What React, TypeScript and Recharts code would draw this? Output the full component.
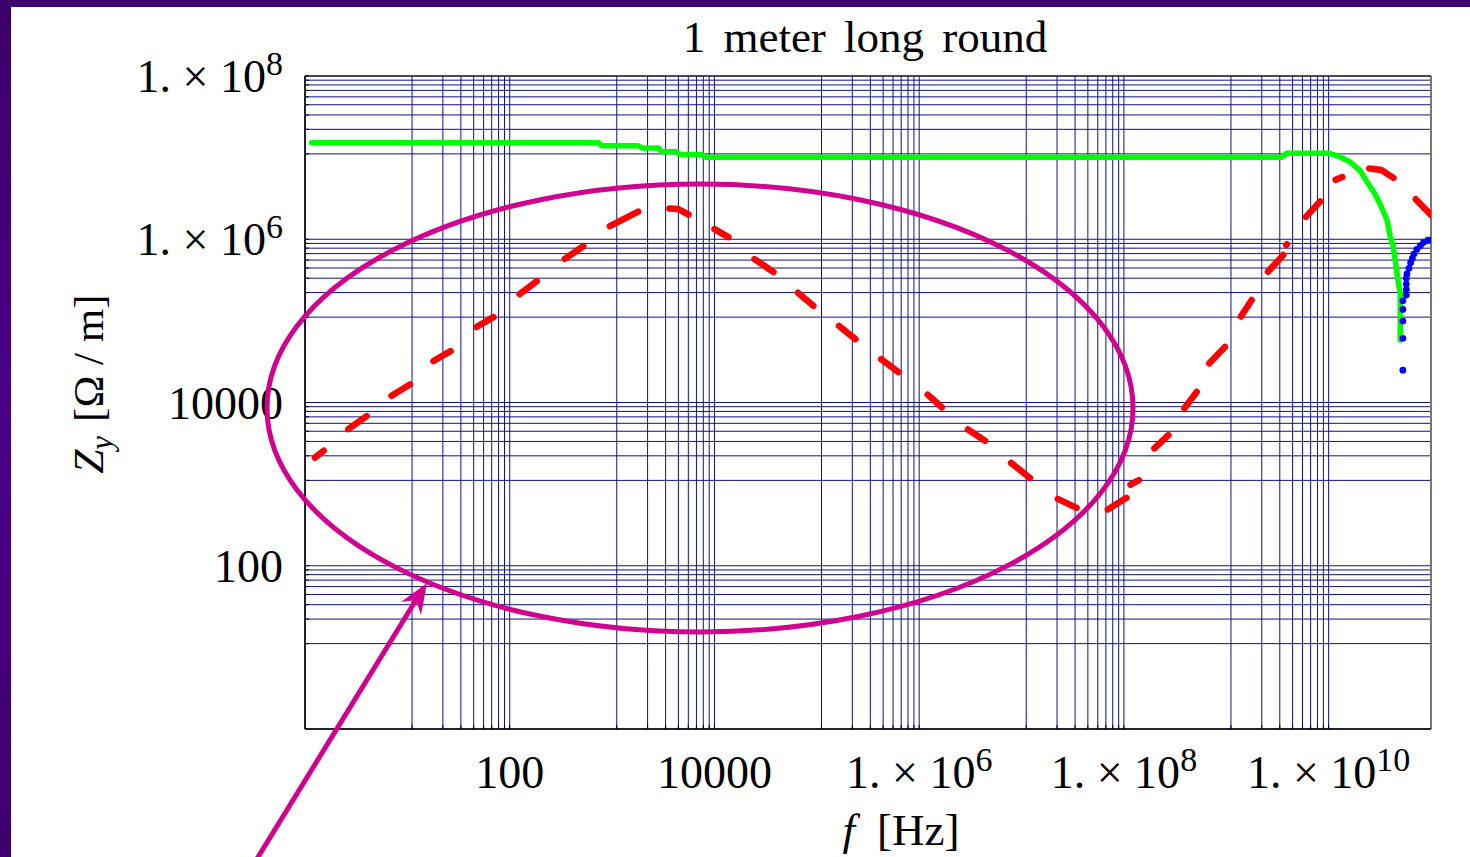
import React from 'react';
import {
  ComposedChart,
  Line,
  Scatter,
  XAxis,
  YAxis,
  CartesianGrid,
  ReferenceLine,
} from 'recharts';

// Z_y [Ohm/m] against f [Hz]

// green curve (f, Z)
const greenFreq = [
  1.16, 740, 790, 1800, 1950, 2850, 3050, 4300, 4600, 7500, 8200,
  3.45e9, 3.89e9, 1.02e10, 1.28e10, 1.6e10, 2.01e10, 2.42e10, 2.81e10,
  3.27e10, 3.71e10, 4.0e10, 4.25e10, 4.51e10, 4.75e10, 5.0e10, 5.0e10,
];
const greenZ = [
  1.52e7, 1.52e7, 1.4e7, 1.4e7, 1.31e7, 1.31e7, 1.18e7, 1.18e7, 1.09e7, 1.09e7, 1.01e7,
  1.01e7, 1.13e7, 1.13e7, 1.03e7, 8.91e6, 7.05e6, 4.84e6, 3.65e6,
  2.5e6, 1.72e6, 1.07e6, 8.49e5, 5.07e5, 3.16e5, 2.17e5, 5.82e4,
];

// red dashes, each one a short run of (f, Z) points
const redDashes: [number, number][][] = [
  [[1.25, 2110], [1.52, 2560]],
  [[2.65, 4720], [4.0, 6800]],
  [[7.0, 12100], [10.6, 16600]],
  [[18.0, 32200], [26.4, 42600]],
  [[47.3, 84000], [69.2, 111000]],
  [[125, 213000], [184, 307000]],
  [[345, 575000], [523, 822000]],
  [[950, 1.45e6], [1800, 2.18e6]],
  [[3640, 2.38e6], [4430, 2.34e6], [5580, 2.01e6]],
  [[10000, 1.33e6], [13700, 1.06e6]],
  [[24600, 570000], [37700, 397000]],
  [[65400, 221000], [92500, 153000]],
  [[165000, 86500], [238000, 59800]],
  [[425000, 34000], [627000, 23600]],
  [[1.21e6, 12500], [1.66e6, 8750]],
  [[2.99e6, 4680], [4.4e6, 3400]],
  [[7.9e6, 1820], [1.21e7, 1190]],
  [[2.26e7, 660], [3.45e7, 512]],
  [[6.96e7, 490], [1.06e8, 680]],
  [[1.16e8, 985], [1.4e8, 1120]],
  [[1.98e8, 2740], [2.72e8, 3980]],
  [[3.9e8, 8500], [5.14e8, 13500]],
  [[6.83e8, 30200], [9.7e8, 48000]],
  [[1.39e9, 113000], [1.77e9, 180000]],
  [[2.55e9, 400000], [3.6e9, 640000]],
  [[3.86e9, 849000], [3.92e9, 870000]],
  [[6.0e9, 1.88e6], [8.25e9, 2.9e6]],
  [[1.17e10, 5.35e6], [1.36e10, 5.78e6]],
  [[2.5e10, 7.37e6], [3.27e10, 7.05e6], [4.3e10, 5.65e6]],
  [[7.1e10, 3.1e6], [1.0e11, 1.98e6]],
];

// blue points
const blueFreq = [
  5.31e10, 5.31e10, 5.31e10, 5.31e10, 5.31e10, 5.74e10, 5.74e10, 5.74e10, 5.74e10,
  5.82e10, 6.09e10, 6.32e10, 6.57e10, 6.81e10, 7.28e10, 7.87e10, 8.47e10, 9.33e10, 9.9e10,
];
const blueZ = [
  24900, 61100, 99500, 138000, 176000, 207000, 243000, 282000, 332000,
  375000, 440000, 515000, 583000, 659000, 752000, 832000, 916000, 977000, 977000,
];

const xMajors = [1e2, 1e4, 1e6, 1e8, 1e10];
const xTickLabels = ['100', '10000', '1. × 10^6', '1. × 10^8', '1. × 10^10'];
const yMajors = [1e2, 1e4, 1e6, 1e8];
const yTickLabels = ['100', '10000', '1. × 10^6', '1. × 10^8'];
const gridSteps = [1, 2, 3, 4, 5, 6, 7, 8, 9];

const serif = '"Liberation Serif", "Times New Roman", serif';

const greenData = greenFreq.map((f, i) => ({ f, z: greenZ[i] }));
const redData = redDashes.flatMap((seg, i) => {
  const pts = seg.map(([f, z]) => ({ f, z } as { f: number; z: number | null }));
  return i === 0 ? pts : [{ f: seg[0][0], z: null }, ...pts];
});
const blueData = blueFreq.map((f, i) => ({ f, z: blueZ[i] }));

// grid lines sit at M*k/9 below every labelled decade
const xTicks = xMajors.flatMap((m) => gridSteps.map((k) => (m * k) / 9));
const yTicks = yMajors.flatMap((m) => gridSteps.map((k) => (m * k) / 9));

const majorIndex = (majors: number[], v: number) =>
  majors.findIndex((m) => Math.abs(v - m) < m * 1e-9);

const TickText = ({ x, y, anchor, label }: any) => {
  const [base, sup] = label.split('^');
  return (
    <text
      x={x}
      y={y}
      textAnchor={anchor}
      fontFamily={serif}
      fontSize={46}
      fill="#000"
      style={{ whiteSpace: 'pre' }}
    >
      {base}
      {sup && (
        <tspan dy={-17} fontSize={34}>
          {sup}
        </tspan>
      )}
    </text>
  );
};

const XTick = (props: any) => {
  const { x, y, payload } = props;
  const i = majorIndex(xMajors, payload.value);
  return (
    <g>
      <line x1={x} x2={x} y1={y} y2={y - 4} stroke="#000" />
      {i >= 0 && <TickText x={x} y={y + 59} anchor="middle" label={xTickLabels[i]} />}
    </g>
  );
};

const YTick = (props: any) => {
  const { x, y, payload } = props;
  const i = majorIndex(yMajors, payload.value);
  return (
    <g>
      <line x1={x} x2={x + 4} y1={y} y2={y} stroke="#000" />
      {i >= 0 && <TickText x={x - 22} y={y + 16} anchor="end" label={yTickLabels[i]} />}
    </g>
  );
};

const BlueDot = (props: any) => <circle cx={props.cx} cy={props.cy} r={3.4} fill="#0000ff" />;

const App = () => {
  return (
    <div
      style={{
        position: 'absolute',
        left: 0,
        top: 0,
        width: 1470,
        height: 857,
        overflow: 'hidden',
        background: 'linear-gradient(180deg, #3b006b 0%, #4b0088 50%, #3d006e 100%)',
      }}
    >
      <div style={{ position: 'absolute', left: 11, top: 7, right: 0, bottom: 0, background: '#fff' }} />
      <div style={{ position: 'absolute', left: 0, top: 0 }}>
        <ComposedChart
          width={1470}
          height={857}
          margin={{ top: 76, right: 39, bottom: 28, left: 105 }}
        >
          <CartesianGrid stroke="#10108a" strokeWidth={1} />
          <XAxis
            dataKey="f"
            type="number"
            scale="log"
            domain={[1, 1e11]}
            allowDataOverflow
            ticks={xTicks}
            interval={0}
            height={100}
            tickSize={0}
            tickMargin={0}
            tickLine={false}
            axisLine={{ stroke: '#000', strokeWidth: 1.5 }}
            tick={<XTick />}
          />
          <YAxis
            dataKey="z"
            type="number"
            scale="log"
            domain={[1, 1e8]}
            allowDataOverflow
            ticks={yTicks}
            interval={0}
            width={200}
            tickSize={0}
            tickMargin={0}
            tickLine={false}
            axisLine={{ stroke: '#000', strokeWidth: 1.5 }}
            tick={<YTick />}
          />
          <ReferenceLine x={1e11} stroke="#777" strokeWidth={2} ifOverflow="visible" />
          <ReferenceLine y={1e8} stroke="#333" strokeWidth={1.5} ifOverflow="visible" />
          <Line
            data={greenData}
            dataKey="z"
            type="linear"
            stroke="#00ff00"
            strokeWidth={5.5}
            strokeLinecap="round"
            strokeLinejoin="round"
            dot={false}
            isAnimationActive={false}
          />
          <Line
            data={redData}
            dataKey="z"
            type="linear"
            stroke="#ff0000"
            strokeWidth={6.5}
            strokeLinecap="round"
            strokeLinejoin="round"
            connectNulls={false}
            dot={false}
            isAnimationActive={false}
          />
          <Scatter data={blueData} dataKey="z" fill="#0000ff" shape={BlueDot} isAnimationActive={false} />
        </ComposedChart>
      </div>
      <svg
        width={1470}
        height={857}
        style={{ position: 'absolute', left: 0, top: 0, pointerEvents: 'none' }}
      >
        <text
          x={865}
          y={52}
          textAnchor="middle"
          fontFamily={serif}
          fontSize={45}
          wordSpacing={7}
          fill="#000"
        >
          1 meter long round
        </text>
        <text
          transform="rotate(-90 103 384)"
          x={103}
          y={384}
          textAnchor="middle"
          fontFamily={serif}
          fontSize={43}
          fill="#000"
        >
          <tspan fontStyle="italic">Z</tspan>
          <tspan fontStyle="italic" fontSize={31} dy={9}>
            y
          </tspan>
          <tspan dy={-9} dx={14}>
            [Ω / m]
          </tspan>
        </text>
        <text x={901} y={845} textAnchor="middle" fontFamily={serif} fontSize={45} fill="#000">
          <tspan fontStyle="italic">f</tspan>
          <tspan dx={22}>[Hz]</tspan>
        </text>
        <ellipse cx={700} cy={408} rx={433} ry={224} fill="none" stroke="#d1008f" strokeWidth={5} />
        <line x1={255} y1={862} x2={416} y2={600} stroke="#d1008f" strokeWidth={5} />
        <polygon points="427,583 401,602 416,600 421,615" fill="#d1008f" />
      </svg>
    </div>
  );
};

export default App;
